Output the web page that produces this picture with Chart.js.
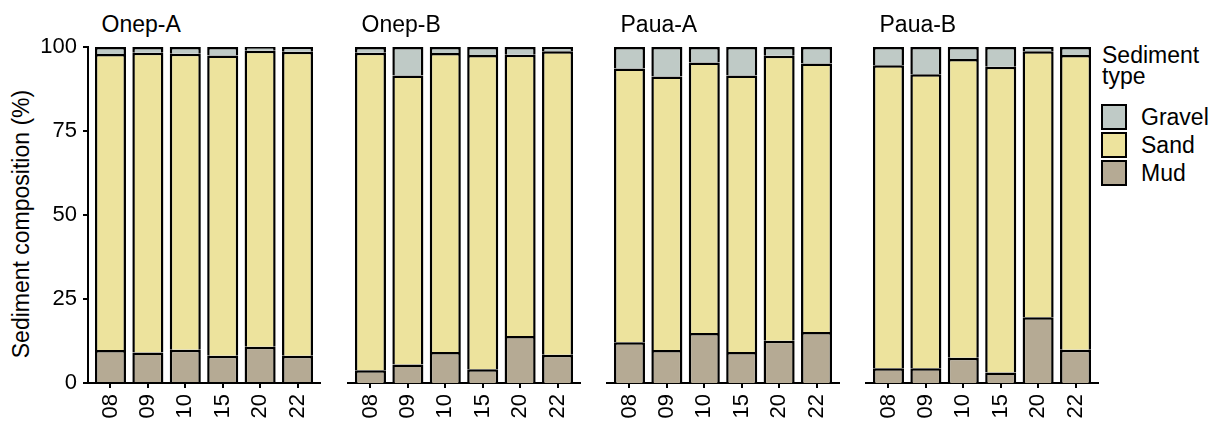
<!DOCTYPE html>
<html>
<head>
<meta charset="utf-8">
<script src="https://cdn.jsdelivr.net/npm/chart.js@4.4.1/dist/chart.umd.min.js"></script>
<style>
  html, body { margin: 0; padding: 0; background: #fff; }
  #wrap { position: relative; width: 1217px; height: 421px; overflow: hidden;
          font-family: "Liberation Sans", Arial, sans-serif; color: #000; }
  #wrap canvas { position: absolute; left: 0; top: 0; }
  .strip { position: absolute; top: 12.8px; font-size: 23px; line-height: 1; white-space: nowrap; }
  .ytitle { position: absolute; left: 21px; top: 224px; font-size: 23px; line-height: 1; white-space: nowrap;
            transform: translate(-50%, -50%) rotate(-90deg); }
  .legtitle { position: absolute; left: 1102px; top: 44.7px; font-size: 23px; line-height: 21.5px; }
  .key { position: absolute; left: 1101px; width: 26px; height: 26px; box-sizing: border-box; border: 2px solid #000; }
  .keylab { position: absolute; left: 1141px; font-size: 23px; line-height: 26px; white-space: nowrap; }
</style>
</head>
<body>
<div id="wrap">
  <div class="ytitle">Sediment composition (%)</div>
  <div class="legtitle">Sediment<br>type</div>
</div>
<script>
// Sampling years (x categories) and sites (one panel per site)
const years = ['08', '09', '10', '15', '20', '22'];
const sites = ['Onep-A', 'Onep-B', 'Paua-A', 'Paua-B'];

// Percent composition, one row per site, one value per year
const mudPct = [
  [9.8, 9.1, 9.9, 8.1, 10.8, 8.1],
  [3.8, 5.5, 9.2, 4.1, 14.0, 8.4],
  [12.1, 9.8, 14.9, 9.2, 12.6, 15.2],
  [4.4, 4.4, 7.5, 3.1, 19.6, 9.9]
];
const sandPct = [
  [88.1, 89.2, 88.1, 89.4, 88.1, 90.5],
  [94.5, 86.0, 89.0, 93.5, 83.7, 90.3],
  [81.5, 81.4, 80.5, 82.3, 84.8, 79.9],
  [90.2, 87.5, 88.9, 91.0, 79.1, 87.7]
];
const gravelPct = [
  [2.1, 1.7, 2.0, 2.5, 1.1, 1.4],
  [1.7, 8.5, 1.8, 2.4, 2.3, 1.3],
  [6.4, 8.8, 4.6, 8.5, 2.6, 4.9],
  [5.4, 8.1, 3.6, 5.9, 1.3, 2.4]
];
const yTicks = [0, 25, 50, 75, 100];

// Sediment types, bottom of the stack first
const types = ['Mud', 'Sand', 'Gravel'];
const typeColors = { Mud: '#b5aa94', Sand: '#ede39d', Gravel: '#bfcac6' };
const typeValues = { Mud: mudPct, Sand: sandPct, Gravel: gravelPct };

// Page layout
const W = 1217, H = 421;
const panelLeft = [88, 348, 607, 866];
const panelWidth = 232;
const plotTop = 47;
const xAxisHeight = 38;
const yAxisWidth = 88;
const FONT = { family: '"Liberation Sans", Arial, sans-serif', size: 22 };

const wrap = document.getElementById('wrap');

// Legend (HTML), top entry is Gravel
['Gravel', 'Sand', 'Mud'].forEach((t, i) => {
  const k = document.createElement('div');
  k.className = 'key';
  k.style.top = (104 + i * 28) + 'px';
  k.style.background = typeColors[t];
  wrap.appendChild(k);
  const l = document.createElement('div');
  l.className = 'keylab';
  l.style.top = (104 + i * 28) + 'px';
  l.textContent = t;
  wrap.appendChild(l);
});

sites.forEach((site, s) => {
  const strip = document.createElement('div');
  strip.className = 'strip';
  strip.style.left = (panelLeft[s] + 13.5) + 'px';
  strip.textContent = site;
  wrap.appendChild(strip);

  const cv = document.createElement('canvas');
  cv.width = W; cv.height = H;
  cv.style.width = W + 'px'; cv.style.height = H + 'px';
  wrap.appendChild(cv);

  const first = s === 0;
  new Chart(cv.getContext('2d'), {
    type: 'bar',
    data: {
      datasets: types.map(t => ({
        label: t,
        data: years.map((_, i) => ({ x: i, y: typeValues[t][s][i] })),
        backgroundColor: typeColors[t],
        borderColor: '#000',
        borderWidth: 2.5,
        barPercentage: 0.83,
        categoryPercentage: 1
      }))
    },
    options: {
      responsive: false,
      animation: false,
      devicePixelRatio: 1,
      events: [],
      layout: {
        padding: {
          top: plotTop,
          bottom: 0,
          left: first ? 0 : panelLeft[s],
          right: W - (panelLeft[s] + panelWidth)
        }
      },
      plugins: { legend: { display: false }, tooltip: { enabled: false }, title: { display: false } },
      scales: {
        x: {
          type: 'linear',
          stacked: true,
          offset: false,
          bounds: 'data',
          min: -0.6,
          max: years.length - 0.4,
          afterBuildTicks: sc => { sc.ticks = years.map((_, i) => ({ value: i })); },
          afterFit: sc => { sc.height = xAxisHeight; },
          grid: { display: true, offset: false, drawOnChartArea: false, drawTicks: true, tickLength: 5, color: '#000', lineWidth: 2 },
          border: { display: true, color: '#000', width: 2 },
          ticks: {
            autoSkip: false, minRotation: 90, maxRotation: 90, padding: 6,
            color: '#000', font: FONT,
            callback: v => years[v]
          }
        },
        y: {
          stacked: true,
          display: first,
          min: 0,
          max: 100,
          afterBuildTicks: sc => { sc.ticks = yTicks.map(v => ({ value: v })); },
          afterFit: sc => { sc.width = first ? yAxisWidth : 0; },
          grid: { display: true, drawOnChartArea: false, drawTicks: true, tickLength: 5, color: '#000', lineWidth: 2 },
          border: { display: true, color: '#000', width: 2 },
          ticks: { padding: 6, color: '#000', font: FONT }
        }
      }
    }
  });
});
</script>
</body>
</html>
